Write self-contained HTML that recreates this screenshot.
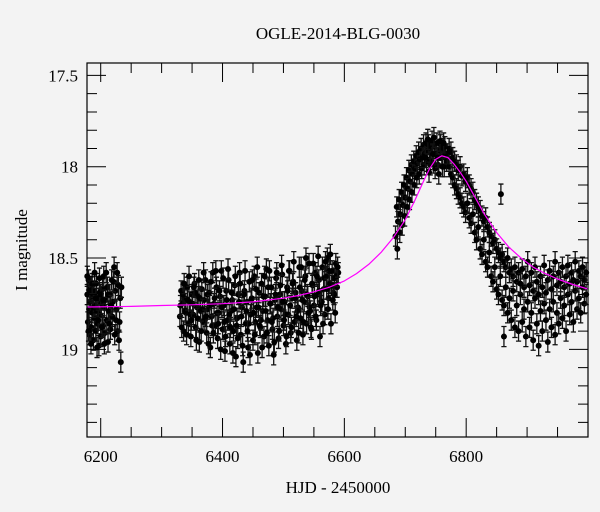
<!DOCTYPE html>
<html><head><meta charset="utf-8"><style>
html,body{margin:0;padding:0;background:#f3f3f3;}
svg{display:block;}
text{font-family:"Liberation Serif","DejaVu Serif",serif;}
</style></head><body>
<svg id="chart" width="600" height="512" viewBox="0 0 600 512">
<rect x="0" y="0" width="600" height="512" fill="#f3f3f3"/>
<text x="338" y="39" text-anchor="middle" font-size="17" font-family="Liberation Serif, serif" fill="#000">OGLE-2014-BLG-0030</text>
<text x="338" y="493" text-anchor="middle" font-size="17" font-family="Liberation Serif, serif" fill="#000">HJD - 2450000</text>
<text transform="translate(27,250) rotate(-90)" text-anchor="middle" font-size="17" font-family="Liberation Serif, serif" fill="#000">I magnitude</text>
<g id="marks"></g>
<g id="axes"></g>
</svg>
<script>
const seg1Hjd = [6178,6179,6180,6181,6182,6183,6184,6185,6186,6187,6188,6189,6190,6191,6192,6193,6194,6195,6196,6197,6198,6199,6200,6201,6203,6204,6205,6206,6207,6208,6210,6211,6212,6213,6215,6216,6218,6219,6220,6222,6223,6224,6226,6228,6229,6231,6232,6233,6234,
6178,6180,6182,6184,6186,6188,6190,6192,6194,6196,6198,6200,6202,6204,6206,6209,6212,6214,6217,6221,6225,6227,6230];
const seg1Mag = [18.70,18.85,18.62,18.78,18.92,18.74,18.66,18.88,18.80,18.71,18.95,18.68,18.83,18.76,18.90,18.64,18.79,18.86,18.72,18.98,18.69,18.81,18.93,18.75,18.67,18.87,18.60,18.77,18.91,18.73,18.84,18.66,18.96,18.79,18.70,18.89,18.62,18.82,18.74,18.55,18.92,18.68,18.78,18.90,18.65,18.85,18.72,19.07,18.66,
18.60,18.90,18.68,18.97,18.64,18.77,18.58,18.72,18.99,18.84,18.61,18.70,18.88,18.73,18.97,18.58,18.70,18.86,18.76,18.63,18.84,18.58,18.95];
const seg2Hjd = [6330,6332,6334,6336,6338,6340,6342,6344,6346,6348,6350,6352,6354,6356,6358,6360,6362,6364,6366,6368,6370,6372,6374,6376,6378,6380,6382,6384,6386,6388,6390,6392,6394,6396,6398,6400,6402,6404,6406,6408,6410,6412,6414,6416,6418,6420,6422,6424,6426,6428,6430,6432,6434,6436,6438,6440,6442,6444,6446,6448,6450,6452,6454,6456,6458,6460,6462,6464,6466,6468,6470,6472,6474,6476,6478,6480,6482,6484,6486,6488,6490,6492,6494,6496,6498,6500,6502,6504,6506,6508,6510,6512,6514,6516,6518,6520,6522,6524,6526,6528,6530,6532,6534,6536,6538,6540,6542,6544,6546,6548,6550,6552,6554,6556,6558,6560,6562,6564,6566,6568,6570,6572,6574,6576,6578,6580,6582,6584,6586,6588,6590,
6331,6335,6339,6343,6347,6351,6355,6359,6363,6367,6371,6375,6379,6383,6387,6391,6395,6399,6403,6407,6411,6415,6419,6423,6427,6431,6435,6439,6443,6447,6451,6455,6459,6463,6467,6471,6475,6479,6483,6487,6491,6495,6499,6503,6507,6511,6515,6519,6523,6527,6531,6535,6539,6543,6547,6551,6555,6559,6563,6567,6571,6575,6579,6583,6587,
6333,6337,6341,6345,6349,6353,6357,6361,6365,6369,6373,6377,6381,6385,6389,6393,6397,6401,6405,6409,6413,6417,6421,6425,6429,6433,6437,6441,6445,6449,6453,6457,6461,6465,6469,6473,6477,6481,6485,6489,6493,6497,6501,6505,6509,6513,6517,6521,6525,6529,6533,6537,6541,6545,6549,6553,6557,6561,6565,6569,6573,6577,6581,6585,6589];
const seg2Mag = [18.82,18.68,18.75,18.90,18.72,18.80,18.66,18.86,18.74,18.93,18.70,18.81,18.64,18.88,18.77,18.71,18.96,18.79,18.67,18.85,18.73,18.62,18.91,18.78,18.69,18.99,18.82,18.58,18.75,18.87,18.66,18.94,18.80,18.71,18.57,18.89,18.76,19.01,18.68,18.84,18.62,18.97,18.79,18.73,18.90,18.65,19.04,18.83,18.70,18.58,18.92,18.77,19.07,18.68,18.86,18.74,18.99,18.63,18.81,18.72,18.95,18.60,18.85,18.77,19.02,18.69,18.88,18.64,18.79,18.93,18.71,18.56,18.84,18.98,18.75,18.66,18.89,19.03,18.73,18.61,18.82,18.94,18.70,18.78,18.59,18.87,18.74,18.97,18.66,18.81,18.57,18.91,18.72,18.63,18.85,18.69,18.95,18.77,18.55,18.83,18.68,18.92,18.74,18.60,18.86,18.71,18.53,18.79,18.89,18.65,18.76,18.58,18.84,18.70,18.62,18.93,18.74,18.55,18.67,18.81,18.60,18.50,18.72,18.64,18.86,18.57,18.69,18.61,18.53,18.66,18.58,
18.76,18.70,18.79,18.73,18.81,18.75,18.69,18.83,18.72,18.78,18.84,18.70,18.76,18.87,18.72,18.80,18.68,18.77,18.85,18.73,18.81,18.69,18.78,18.87,18.74,18.82,18.70,18.79,18.86,18.73,18.80,18.67,18.77,18.84,18.71,18.79,18.66,18.75,18.83,18.70,18.77,18.65,18.74,18.81,18.68,18.76,18.64,18.72,18.79,18.66,18.73,18.62,18.70,18.77,18.64,18.71,18.60,18.68,18.74,18.61,18.67,18.57,18.65,18.70,18.60,
18.88,18.64,18.92,18.60,18.84,18.66,18.95,18.62,18.90,18.58,18.82,18.97,18.63,18.91,18.57,18.86,19.00,18.61,18.93,18.56,18.88,19.02,18.60,18.94,18.64,18.98,18.57,18.90,19.03,18.62,18.92,18.55,18.87,18.99,18.60,18.91,18.57,18.85,18.96,18.58,18.90,18.54,18.84,18.93,18.57,18.88,18.52,18.82,18.91,18.55,18.85,18.50,18.80,18.88,18.53,18.82,18.49,18.76,18.86,18.52,18.78,18.48,18.73,18.80,18.55];
const seg3Hjd = [6684,6686,6687,6688,6690,6691,6692,6694,6695,6696,6698,6699,6700,6702,6703,6704,6706,6707,6708,6710,6711,6712,6714,6715,6716,6718,6719,6720,6722,6723,6724,6726,6727,6728,6730,6731,6732,6734,6735,6736,6738,6740,6742,6744,6746,6748,6750,6752,6754,6756,6758,6760,6762,6764,6766,6768,
6733,6737,6741,6745,6749,6753,6757,6761,6765,6769,6739,6747,6755,6763,
6772,6772,6775,6775,6778,6778,6781,6781,6784,6784,6787,6787,6790,6790,6793,6793,6796,6796,6799,6799,6802,6802,6805,6805,6808,6808,6811,6811,6814,6814,6817,6817,6820,6820,6823,6823,6826,6826,6829,6829,6832,6832,6835,6835,6838,6838,6841,6841,6844,6844,6847,6847,6850,6850,6853,6853,6856,6856,6859,6859,6862,6862,6865,6865,6868,6868,6871,6871,6874,6874,6877,6877,6880,6880,6883,6883,6886,6886,6889,6889,6892,6892,6895,6895,6898,6898,6901,6901,6904,6904,6907,6907,6910,6910,6913,6913,6916,6916,6919,6919,6922,6922,6925,6925,6928,6928,6931,6931,6934,6934,6937,6937,6940,6940,6943,6943,6946,6946,6949,6949,6952,6952,6955,6955,6958,6958,6961,6961,6964,6964,6967,6967,6970,6970,6973,6973,6976,6976,6979,6979,6982,6982,6985,6985,6988,6988,6991,6991,6994,6994,6997,6997,
6862,6857];
const seg3Mag = [18.38,18.22,18.45,18.30,18.18,18.36,18.26,18.14,18.32,18.21,18.10,18.27,18.17,18.06,18.22,18.12,18.02,18.18,18.08,17.99,18.14,18.04,17.97,18.10,18.01,17.94,18.06,17.98,17.92,18.04,17.96,17.90,18.01,17.95,17.88,17.99,17.93,17.87,17.97,17.91,17.88,17.96,17.90,17.86,17.98,17.89,17.93,17.87,17.99,17.91,17.88,17.95,17.90,18.00,17.93,17.97,
17.95,17.85,17.99,17.93,18.01,17.95,17.86,18.00,17.89,17.93,18.03,17.84,18.04,17.87,
18.00,17.90,18.04,17.92,18.06,17.95,18.10,17.97,18.12,17.99,18.15,18.02,18.17,18.00,18.20,18.05,18.22,18.04,18.25,18.08,18.20,18.06,18.28,18.10,18.31,18.12,18.26,18.14,18.36,18.18,18.40,18.20,18.33,18.22,18.45,18.24,18.48,18.27,18.40,18.30,18.52,18.28,18.55,18.33,18.47,18.36,18.60,18.38,18.63,18.42,18.55,18.40,18.67,18.45,18.70,18.47,18.60,18.50,18.73,18.48,18.76,18.52,18.66,18.55,18.80,18.50,18.72,18.58,18.84,18.56,18.68,18.60,18.88,18.55,18.76,18.63,18.90,18.58,18.70,18.64,18.85,18.56,18.78,18.66,18.93,18.60,18.74,18.52,18.88,18.65,18.80,18.58,18.95,18.68,18.72,18.55,18.86,18.63,18.98,18.70,18.79,18.60,18.90,18.66,18.75,18.54,18.84,18.69,18.96,18.62,18.78,18.57,18.88,18.67,18.74,18.60,18.92,18.52,18.80,18.65,18.86,18.58,18.72,18.63,18.83,18.55,18.76,18.66,18.90,18.60,18.70,18.54,18.81,18.64,18.74,18.58,18.85,18.62,18.68,18.52,18.78,18.63,18.72,18.57,18.80,18.60,18.66,18.55,18.75,18.62,18.70,18.58,
18.93,18.15];
const hjd = seg1Hjd.concat(seg2Hjd, seg3Hjd);
const mag = seg1Mag.concat(seg2Mag, seg3Mag);
const modelHjd = [6177,6250,6300,6350,6400,6450,6500,6525,6550,6575,6600,6620,6640,6660,6680,6700,6715,6730,6740,6750,6760,6770,6780,6790,6800,6815,6830,6850,6870,6890,6910,6930,6950,6975,7000];
const modelMag = [18.768,18.765,18.76,18.756,18.75,18.74,18.72,18.705,18.685,18.66,18.625,18.585,18.535,18.47,18.39,18.29,18.19,18.08,18.01,17.96,17.94,17.95,17.985,18.03,18.08,18.17,18.26,18.36,18.44,18.50,18.55,18.585,18.615,18.645,18.67];
const errBar = 0.055;
const xTickLabels = [6200,6400,6600,6800];
const yTickLabels = [17.5,18,18.5,19];

const NS = "http://www.w3.org/2000/svg";
const L=87,R=588,T=63,B=437;
const X0=6177.5,X1=7000,Y0=17.432,Y1=19.48;
const sx = v => L + (v-X0)/(X1-X0)*(R-L);
const sy = v => T + (v-Y0)/(Y1-Y0)*(B-T);
function mk(tag, attrs, parent){const e=document.createElementNS(NS,tag);for(const k in attrs)e.setAttribute(k,attrs[k]);parent.appendChild(e);return e;}
const marks=document.getElementById('marks');
const axes=document.getElementById('axes');

for(let i=0;i<hjd.length;i++){
  const x=sx(hjd[i]), y1=sy(mag[i]-errBar), y2=sy(mag[i]+errBar), y=sy(mag[i]);
  const g=mk('g',{},marks);
  
  
  mk('path',{d:`M${x},${y1}V${y2}M${x-2.6},${y1}H${x+2.6}M${x-2.6},${y2}H${x+2.6}`,stroke:'#111','stroke-width':1.3,fill:'none'},g);
  mk('circle',{cx:x,cy:y,r:3,fill:'#000'},g);
}
let d='';
for(let i=0;i<modelHjd.length;i++){d+=(i?'L':'M')+sx(modelHjd[i]).toFixed(1)+','+sy(modelMag[i]).toFixed(1);}
const ml=mk('path',{d:d,stroke:'#ff00ff','stroke-width':1.2,fill:'none','stroke-linejoin':'round'},marks);



const frame=mk('rect',{x:L,y:T,width:R-L,height:B-T,fill:'none',stroke:'#000','stroke-width':1.2},axes);


for(let v=6200;v<=7000;v+=50){
  const x=sx(v); const len=(v%200===0)?19:10;
  mk('path',{d:`M${x},${B}V${B-len}M${x},${T}V${T+len}`,stroke:'#000','stroke-width':1},axes);
}
for(let k=175;k<=194;k++){
  const v=k/10; const y=sy(v); const len=(k%5===0)?19:10;
  mk('path',{d:`M${L},${y}H${L+len}M${R},${y}H${R-len}`,stroke:'#000','stroke-width':1},axes);
}
xTickLabels.forEach(v=>{
  const t=mk('text',{x:sx(v),y:B+25,'text-anchor':'middle','font-size':17,'font-family':'Liberation Serif, serif'},axes);
  t.textContent=v;
  
  
});
yTickLabels.forEach(v=>{
  const t=mk('text',{x:L-9,y:sy(v)+6,'text-anchor':'end','font-size':17,'font-family':'Liberation Serif, serif'},axes);
  t.textContent=v;
  
  
});
</script>
</body></html>
